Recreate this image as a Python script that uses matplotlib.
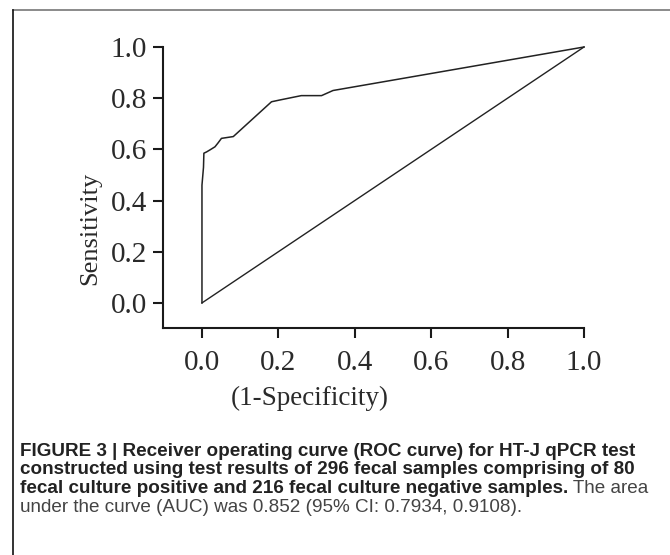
import matplotlib
matplotlib.use("Agg")
import matplotlib.pyplot as plt
from matplotlib.lines import Line2D

# ROC CURVE POINTS

fpr = [0.0, 0.0, 0.004, 0.005, 0.012, 0.021, 0.034, 0.042, 0.051, 0.082,
       0.182, 0.204, 0.26, 0.313, 0.343, 1.0]
tpr = [0.0, 0.46, 0.53, 0.585, 0.59, 0.598, 0.61, 0.625, 0.643, 0.65,
       0.786, 0.793, 0.81, 0.81, 0.83, 1.0]

ref_x = [0.0, 1.0]
ref_y = [0.0, 1.0]

ticks = [0.0, 0.2, 0.4, 0.6, 0.8, 1.0]
tick_labels = ["0.0", "0.2", "0.4", "0.6", "0.8", "1.0"]

caption_bold = [
    "FIGURE 3 | Receiver operating curve (ROC curve) for HT-J qPCR test",
    "constructed using test results of 296 fecal samples comprising of 80",
    "fecal culture positive and 216 fecal culture negative samples.",
]
caption_tail = " The area"
caption_last = "under the curve (AUC) was 0.852 (95% CI: 0.7934, 0.9108)."

# %%
# FIGURE

W, H = 670, 555
fig = plt.figure(figsize=(W / 100, H / 100), dpi=100)
fig.patch.set_facecolor("white")

# panel frame (top and left edges)
fig.add_artist(Line2D([13 / W, 1.0], [1 - 10 / H, 1 - 10 / H],
                      transform=fig.transFigure, color="#777777", lw=1.2))
fig.add_artist(Line2D([13 / W, 13 / W], [0.0, 1 - 10 / H],
                      transform=fig.transFigure, color="#111111", lw=1.2))

ax = fig.add_axes([163 / W, 1 - 328 / H, (584 - 163) / W, (328 - 47) / H])
ax.plot(fpr, tpr, color="#222222", lw=1.1, clip_on=False)
ax.plot(ref_x, ref_y, color="#222222", lw=1.0, clip_on=False)

ax.set_xlim(-0.102, 1.0)
ax.set_ylim(-0.098, 1.0)
for s in ["top", "right"]:
    ax.spines[s].set_visible(False)
for s in ["left", "bottom"]:
    ax.spines[s].set_linewidth(1.5)
    ax.spines[s].set_color("#1a1a1a")

tick_font = {"family": "Liberation Serif", "size": 21, "color": "#2a2a2a"}
ax.set_xticks(ticks)
ax.set_yticks(ticks)
ax.set_xticklabels(tick_labels, fontdict=tick_font)
ax.set_yticklabels(tick_labels, fontdict=tick_font)
ax.tick_params(axis="both", direction="out", length=7.5, width=1.5, color="#1a1a1a")
ax.tick_params(axis="x", pad=8)
ax.tick_params(axis="y", pad=4)

fig.text(90 / W, 1 - 228 / H, "Sensitivity", rotation=90, ha="center", va="center",
         family="Liberation Serif", size=19, color="#2a2a2a")
fig.text(310 / W, 1 - 398 / H, "(1-Specificity)", ha="center", va="center",
         family="Liberation Serif", size=19.5, color="#2a2a2a")

# CAPTION

cap_font = ["Liberation Sans Narrow", "Liberation Sans"]
baselines = [456, 474.5, 493, 511.5]
last_bold = None
for line, yb in zip(caption_bold, baselines):
    last_bold = fig.text(20 / W, 1 - yb / H, line, ha="left", va="baseline",
                         family=cap_font, weight="bold", size=13.6, color="#222222")
fig.add_artist(plt.Annotation(caption_tail, xy=(1, 0), xycoords=last_bold,
                              va="bottom", ha="left", family=cap_font,
                              size=13.6, color="#444444"))
fig.text(20 / W, 1 - baselines[3] / H, caption_last, ha="left", va="baseline",
         family=cap_font, size=13.6, color="#444444")

fig.savefig("out.png", dpi=100)
